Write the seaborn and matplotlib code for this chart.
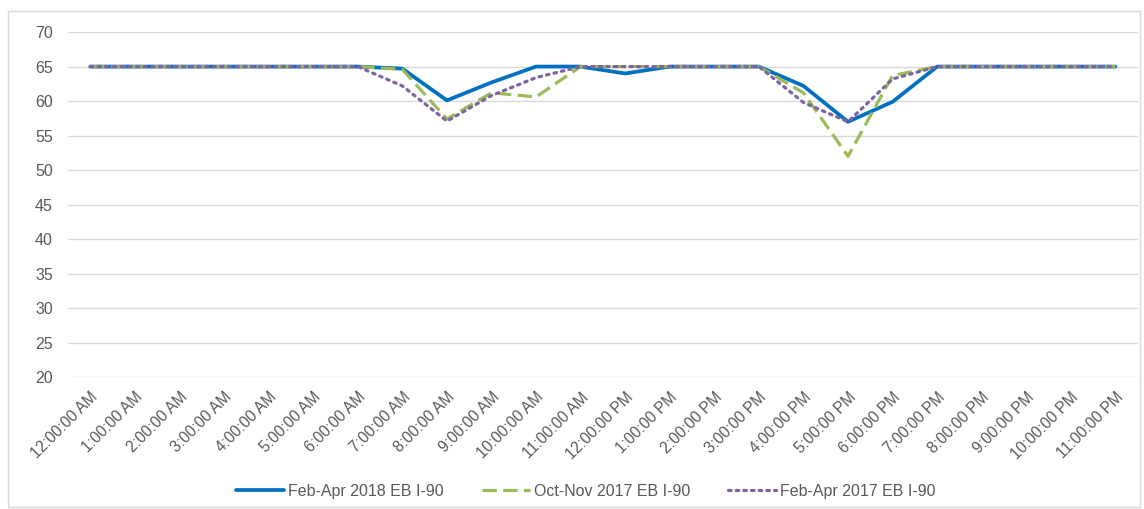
import matplotlib
matplotlib.use("Agg")
import matplotlib.pyplot as plt
import seaborn as sns
import pandas as pd
from matplotlib.patches import Rectangle

hours = ["12:00:00 AM", "1:00:00 AM", "2:00:00 AM", "3:00:00 AM", "4:00:00 AM", "5:00:00 AM",
         "6:00:00 AM", "7:00:00 AM", "8:00:00 AM", "9:00:00 AM", "10:00:00 AM", "11:00:00 AM",
         "12:00:00 PM", "1:00:00 PM", "2:00:00 PM", "3:00:00 PM", "4:00:00 PM", "5:00:00 PM",
         "6:00:00 PM", "7:00:00 PM", "8:00:00 PM", "9:00:00 PM", "10:00:00 PM", "11:00:00 PM"]

feb_apr_2018 = [65, 65, 65, 65, 65, 65, 65, 64.7, 60.1, 62.7, 65, 65,
                64.0, 65, 65, 65, 62.2, 57.0, 59.9, 65, 65, 65, 65, 65]
oct_nov_2017 = [65, 65, 65, 65, 65, 65, 65, 64.6, 57.4, 61.2, 60.6, 65,
                65, 65, 65, 65, 61.2, 52.0, 63.7, 65, 65, 65, 65, 65]
feb_apr_2017 = [65, 65, 65, 65, 65, 65, 65, 62.2, 57.1, 60.8, 63.4, 65,
                65, 65, 65, 65, 59.8, 57.0, 63.2, 65, 65, 65, 65, 65]

series_names = ["Feb-Apr 2018 EB I-90", "Oct-Nov 2017 EB I-90", "Feb-Apr 2017 EB I-90"]
series_values = [feb_apr_2018, oct_nov_2017, feb_apr_2017]
y_ticks = [20, 25, 30, 35, 40, 45, 50, 55, 60, 65, 70]

colors = ["#0070C0", "#9BBB59", "#7F64A0"]
styles = ["-", "--", ":"]

sns.set_theme(style="white")
plt.rcParams["font.family"] = ["Liberation Sans", "DejaVu Sans"]

fig = plt.figure(figsize=(11.44, 5.09), dpi=100)
ax = fig.add_axes([0.0595, 0.259, 0.935, 0.678])

for name, vals, col, ls in zip(series_names, series_values, colors, styles):
    df = pd.DataFrame({"x": list(range(len(hours))), "y": vals})
    sns.lineplot(data=df, x="x", y="y", ax=ax, color=col, linewidth=2.7, label=name)
    l = ax.get_lines()[-1]
    if ls == "--":
        l.set_dashes([4.5, 2.0])
        l.set_linewidth(2.3)
    elif ls == ":":
        l.set_dashes([0.8, 1.6])
        l.set_linewidth(2.3)
        l.set_dash_capstyle("round")

ax.set_xlim(-0.5, len(hours) - 0.5)
ax.set_ylim(20, 70)
ax.set_yticks(y_ticks)
ax.set_yticklabels([str(t) for t in y_ticks], fontsize=11.5, color="#595959")
ax.set_xticks(range(len(hours)))
ax.set_xticklabels(hours, rotation=45, ha="right", rotation_mode="anchor",
                   fontsize=11.2, color="#595959")
ax.tick_params(axis="x", pad=9, length=0)
ax.tick_params(axis="y", pad=11, length=0)
ax.grid(axis="y", color="#D9D9D9", linewidth=1.0)
ax.set_axisbelow(True)
for s in ax.spines.values():
    s.set_visible(False)
ax.set_xlabel("")
ax.set_ylabel("")

leg = ax.legend(loc="lower center", bbox_to_anchor=(0.512, -0.008), bbox_transform=fig.transFigure,
                ncol=3, frameon=False, fontsize=11.5, handlelength=3.0, handletextpad=0.25,
                columnspacing=2.4)
for t in leg.get_texts():
    t.set_color("#595959")

fig.patches.append(Rectangle((8 / 1144, 0.003), 1132 / 1144, 1 - 11 / 509 - 0.003,
                             transform=fig.transFigure, fill=False,
                             edgecolor="#D9D9D9", linewidth=1.0))

fig.savefig("out.png", dpi=100, facecolor="white")
